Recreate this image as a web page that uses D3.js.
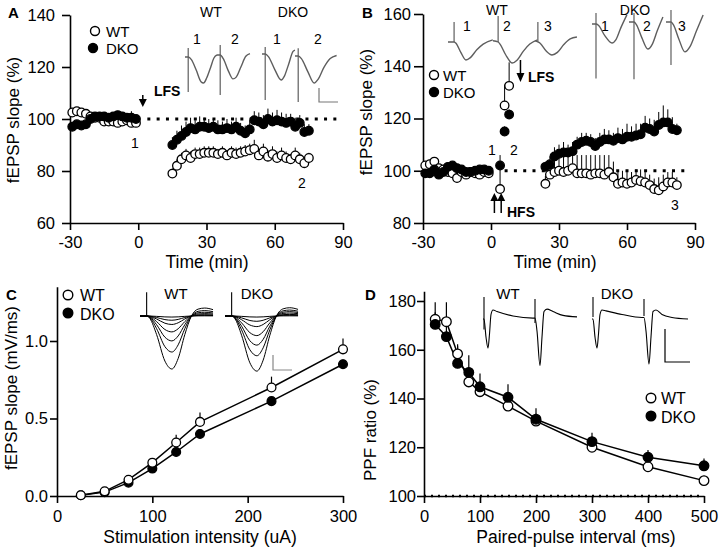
<!DOCTYPE html>
<html><head><meta charset="utf-8">
<script src="https://cdn.jsdelivr.net/npm/d3@7"></script>
<style>
body{margin:0;background:#fff;}
svg{display:block;}
</style></head><body>
<svg id="chart" width="720" height="553"></svg>
<script>
// ================= DATA =================
// Panel A (LFS)
const timeBaseA = [-29,-27,-25,-23,-21,-19,-17,-15,-13,-11,-9,-7,-5,-3,-1];
const wtBaseA   = [102.5,103,102.5,102,101,100.5,100.5,99,99,99,98.5,99,99.5,98.5,98.5];
const wtBaseAErr= [1,1,1.2,1,1,1.2,1,1,1.5,1,1.2,1,1.5,1.2,1.5];
const dkoBaseA  = [97,98,97.5,98,100,101,101,101,100.5,101,101.5,101,100.5,100.5,100];
const dkoBaseAErr=[1.5,1.2,1.5,1,1.5,1.2,1.5,1.2,1.5,1.2,1.5,1.2,1.5,2.5,1.5];
const timePostA = [15,17,19,21,23,25,27,29,31,33,35,37,39,41,43,45,47,49,51,53,55,57,59,61,63,65,67,69,71,73,75];
const wtPostA   = [79,82,84.5,86,85,86.5,86.5,87,87,87,86.5,87,86,87,86.5,87,87.5,88,88.5,86,87.5,85.5,86.5,85,86,85,84.5,86,84.5,83,85];
const wtPostAErr= [2,2.5,2.5,2.5,2.5,2.5,2.5,2.5,2.5,2.5,2,2.5,2,2.5,2.5,2.5,2.5,2.5,3.5,2.5,3,2.5,3,2.5,3,2.5,2,3,2.5,2,2];
const dkoPostA  = [90,92,93.5,95,96.5,96,97,97,96.5,97,96,96,96.5,96,97,95.5,94.5,96,99.5,99,98,100,99,99.5,99,98.5,99,97,98.5,95,95.5];
const dkoPostAErr=[3,3.5,4,4,4,3.5,4,3.5,3.5,3,3.5,3,3.5,3,3.5,3,3,3.5,3.5,3.5,3.5,4,3.5,4,3.5,3.5,3,3.5,3,3,2.5];

// Panel B (HFS then LFS)
const timeBaseB = [-29,-27,-25,-23,-21,-19,-17,-15,-13,-11,-9,-7,-5,-3,-1];
const wtBaseB   = [102,102.5,103.5,101,100.5,99.5,99,97.2,99.5,98.5,99.5,99,98.5,99.5,99];
const dkoBaseB  = [99,99,100.5,98.5,99.5,101.5,102,101,100.5,99.5,99.5,100,100.5,100.5,100];
const baseBErr  = [1.5,1.5,1.5,1.5,1.5,1.5,1.5,1.5,1.5,1.5,1.5,1.5,1.5,1.5,1.5];
const timeEarlyB = [4,6,8];
const wtEarlyB   = [93,125,132.5];
const wtEarlyBErr= [9,8,9];
const dkoEarlyB  = [102,115,121.5];
const dkoEarlyBErr=[4,2,2];
const timePostB = [24,26,28,30,32,34,36,38,40,42,44,46,48,50,52,54,56,58,60,62,64,66,68,70,72,74,76,78,80,82];
const wtPostB   = [95,98.5,99.5,100,99.5,100,101,99,99,99,98.5,99,99,98.5,99.5,97.5,95,95.5,95,95.5,96.5,96,95.5,94.5,93,92.5,94,95.5,95.5,94.5];
const wtPostBErr= [3,5,6,6.5,6,6.5,6,7,7,7,7.5,7,7,7.5,6.5,6,5,4.5,5,4,4,4.5,4,4,4,5,4.5,4,4,3];
const dkoPostB  = [101.5,102.5,105.5,106.5,107,107,107.5,110,111,111.5,111,109.5,111,112,112,111.5,112.5,112,113,113,113.5,114,116.5,116,115,117.5,118.5,118.5,116,115.5];
const dkoPostBErr=[2,3,3.5,3.5,4,3,3.5,3,3.5,3,3,3,3.5,4,3.5,3,4,4,5,4,4.5,4,4.5,4,4.5,5,6.5,5,4.5,2.5];

// Panel C (input-output)
const intensityC = [25,50,75,100,125,150,225,300];
const wtC     = [0.005,0.03,0.105,0.215,0.345,0.478,0.70,0.946];
const wtCErr  = [0.005,0.01,0.02,0.03,0.05,0.06,0.07,0.07];
const dkoC    = [0.005,0.025,0.086,0.177,0.284,0.40,0.612,0.85];
const dkoCErr = [0.005,0.01,0.01,0.02,0.02,0.03,0.03,0.03];

// Panel D (paired-pulse)
const intervalD = [20,40,60,80,100,150,200,300,400,500];
const wtD     = [172.5,171.5,158.3,146.8,142.8,136.9,130.7,120,112,106.3];
const wtDErr  = [7,8,4,3,3,3,3,2,2,2];
const dkoD    = [170.4,165.4,154.4,150.7,144.8,140.5,131.5,122.3,115.9,112.4];
const dkoDErr = [5,6,7,7,5.5,5.3,4.5,3.7,3,3];

// Tick labels
const ticksTimeX = [-30,0,30,60,90];
const ticksAY = [60,80,100,120,140];
const ticksBY = [80,100,120,140,160];
const ticksCX = [0,100,200,300];
const ticksCY = [0,0.5,1.0];
const ticksDX = [0,100,200,300,400,500];
const ticksDY = [100,120,140,160,180];

// Inset sample traces: [time unit, amplitude unit]
const trA_wt1  = [[0,0],[1,0],[2,-0.1],[3.5,-0.5],[5,-0.95],[5.8,-1.0],[6.8,-0.8],[8,-0.4],[9,-0.05],[10,0.08]];
const trA_wt2  = [[0,0],[1,0],[2,-0.15],[3.5,-0.6],[5,-0.92],[6,-0.85],[7.5,-0.45],[9,-0.05],[10.3,0.05]];
const trA_dko1 = [[0,0],[1,0],[2,-0.1],[4,-0.6],[6,-1.0],[7,-0.85],[8.3,-0.4],[9.7,0.1],[10.3,0.15]];
const trA_dko2 = [[0,0],[1,0],[2,-0.1],[4,-0.6],[6,-1.04],[7.2,-0.9],[9,-0.45],[11,-0.1],[13,0.02]];
const artA = [[1,0.35,-1.35],[1,0.38,-1.54],[1,0.27,-1.77],[1,0.3,-1.77]];
const trB_wt1  = [[0,0],[1.9,0],[2.5,-0.05],[4,-0.4],[5.6,-0.69],[7,-0.6],[9,-0.3],[11,-0.08],[14,0.08]];
const trB_wt2  = [[0,0.05],[1.6,0],[2.3,-0.1],[4,-0.5],[6,-0.81],[7.5,-0.7],[9.5,-0.35],[11.5,-0.08],[13.9,0.08]];
const trB_wt3  = [[0,0.05],[0.9,0],[1.6,-0.05],[3.5,-0.35],[5.3,-0.5],[7,-0.4],[9,-0.1],[11,0.12],[13.1,0.19]];
const trB_dko1 = [[0,0],[1.25,0],[2,-0.05],[4,-0.45],[6.25,-0.73],[7.5,-0.6],[9,-0.15],[10.9,0.35]];
const trB_dko2 = [[0,0],[1.56,0],[2.3,-0.1],[4,-0.6],[5.9,-1.04],[7.3,-0.85],[8.8,-0.35],[10.6,0.19]];
const trB_dko3 = [[0,0],[1.56,0],[2.3,-0.1],[4,-0.65],[5.9,-1.15],[7.5,-0.95],[9.5,-0.35],[11.6,0.27]];
const artB = [[1.9,0.77,0],[1.6,1.0,0],[0.9,0.77,0],[1.25,0.42,-2.1],[1.56,0.35,-2.2],[1.56,0.46,-1.65]];
const shapeC = [[0,0],[2,0],[3,-0.05],[5,-0.35],[7.5,-0.85],[9.6,-1],[11.5,-0.8],[13.5,-0.35],[15.5,0],[17.5,0.13],[19.5,0.15],[22,0.12]];
const ampC_wt  = [0.02,0.08,0.16,0.3,0.47,0.68,1.0];
const ampC_dko = [0.02,0.1,0.2,0.37,0.55,0.75,1.04];
const artC = [2,0.45,0];
const trD_wt  = [[0,0],[1,0],[3,-0.6],[5,-0.97],[6.5,-0.5],[8,0.15],[10,0.3],[14,0.25],[30,0.1],[50,0.03],[52,0.03],[54,-0.4],[57,-1.55],[59,-0.6],[61,0.25],[64,0.33],[70,0.25],[80,0.12],[94,0.07]];
const trD_dko = [[0,0],[1,0],[3,-0.6],[5,-0.97],[6.5,-0.5],[8,0.15],[10,0.3],[14,0.27],[30,0.15],[50,0.05],[52,0.05],[54,-0.4],[57,-1.5],[59,-0.6],[61,0.25],[64,0.3],[70,0.15],[80,0.05],[96,0.0]];
const artD_wt  = [[1,0.73,-0.35],[52,0.67,-0.13]];
const artD_dko = [[1,0.73,0.07],[52,0.67,0.1]];

// ================= DRAWING =================
const FONT = "'Liberation Sans', Arial, Helvetica, sans-serif";
const svg = d3.select("#chart").attr("font-family", FONT);

const xA = d3.scaleLinear().domain([-30,90]).range([70,343]);
const yA = d3.scaleLinear().domain([60,140]).range([223,15]);
const xB = d3.scaleLinear().domain([-30,90]).range([423,695]);
const yB = d3.scaleLinear().domain([80,160]).range([223,14]);
const xC = d3.scaleLinear().domain([0,300]).range([57,343]);
const yC = d3.scaleLinear().domain([0,1.35]).range([496,286.75]);
const xD = d3.scaleLinear().domain([0,500]).range([424,704]);
const yD = d3.scaleLinear().domain([100,184]).range([496,291.25]);

const plain = d => String(d);
function axes(x, y, o) {
  const g = svg.append("g");
  const xg = g.append("g").attr("transform", `translate(0,${y.range()[0]})`)
    .call(d3.axisBottom(x).tickValues(o.xt).tickFormat(o.xf || plain).tickSize(7).tickSizeOuter(0).tickPadding(o.xp));
  const yg = g.append("g").attr("transform", `translate(${x.range()[0]},0)`)
    .call(d3.axisLeft(y).tickValues(o.yt).tickFormat(o.yf || plain).tickSize(o.yts || 7).tickSizeOuter(0).tickPadding(o.yp));
  [xg, yg].forEach(a => {
    a.attr("font-size", 16.5).attr("font-family", FONT);
    a.select(".domain").attr("stroke", "#000").attr("stroke-width", 1.6);
    a.selectAll(".tick line").attr("stroke", "#000").attr("stroke-width", 1.6);
    a.selectAll(".tick text").attr("fill", "#000");
  });
}
function text(x, y, s, o = {}) {
  const t = svg.append("text").attr("x", x).attr("y", y).text(s)
    .attr("font-size", o.size || 16).attr("fill", "#000")
    .attr("text-anchor", o.anchor || "start")
    .attr("font-weight", o.bold ? "bold" : "normal");
  if (o.rot) t.attr("transform", `rotate(-90,${x},${y})`);
  return t;
}
function errBars(x, y, xs, ys, es, sw = 1) {
  svg.append("g").selectAll("line").data(xs.map((d, i) => [d, ys[i], es[i]])).join("line")
    .attr("x1", d => x(d[0])).attr("x2", d => x(d[0]))
    .attr("y1", d => y(d[1])).attr("y2", d => y(d[1] + d[2]))
    .attr("stroke", "#000").attr("stroke-width", sw);
}
function dots(x, y, xs, ys, filled, r) {
  svg.append("g").selectAll("circle").data(xs.map((d, i) => [d, ys[i]])).join("circle")
    .attr("cx", d => x(d[0])).attr("cy", d => y(d[1])).attr("r", r)
    .attr("fill", filled ? "#000" : "#fff").attr("stroke", "#000").attr("stroke-width", 1.3);
}
function connect(x, y, xs, ys) {
  svg.append("path").attr("d", d3.line().x(d => x(d[0])).y(d => y(d[1]))(xs.map((d, i) => [d, ys[i]])))
    .attr("fill", "none").attr("stroke", "#000").attr("stroke-width", 1.5);
}
function hdotted(x, y, x0, x1, v, w, dash) {
  svg.append("line").attr("x1", x(x0)).attr("x2", x(x1)).attr("y1", y(v)).attr("y2", y(v))
    .attr("stroke", "#000").attr("stroke-width", w).attr("stroke-dasharray", dash);
}
function legendItem(cx, cy, filled, r, label, tx, ty, fs = 15) {
  svg.append("circle").attr("cx", cx).attr("cy", cy).attr("r", r)
    .attr("fill", filled ? "#000" : "#fff").attr("stroke", "#000").attr("stroke-width", 1.4);
  text(tx, ty, label, { size: fs });
}
function arrow(x, yTail, yTip, w = 3.5, head = 8) {
  const dir = yTip > yTail ? 1 : -1;
  svg.append("line").attr("x1", x).attr("x2", x).attr("y1", yTail).attr("y2", yTip - dir * head)
    .attr("stroke", "#000").attr("stroke-width", 1.5);
  svg.append("path").attr("d", `M${x - w},${yTip - dir * head}L${x + w},${yTip - dir * head}L${x},${yTip}Z`).attr("fill", "#000");
}
function trace(pts, ox, oy, sx, sy, stroke, sw, amp = 1) {
  const xs = d3.scaleLinear().domain([0, 1]).range([ox, ox + sx]);
  const ys = d3.scaleLinear().domain([0, 1]).range([oy, oy - sy]);
  svg.append("path").attr("d", d3.line().x(d => xs(d[0])).y(d => ys(d[1] * amp)).curve(d3.curveMonotoneX)(pts))
    .attr("fill", "none").attr("stroke", stroke).attr("stroke-width", sw);
  return { xs, ys };
}
function art(sc, a, stroke, sw) {
  svg.append("line").attr("x1", sc.xs(a[0])).attr("x2", sc.xs(a[0])).attr("y1", sc.ys(a[1])).attr("y2", sc.ys(a[2]))
    .attr("stroke", stroke).attr("stroke-width", sw);
}
function scaleBar(x, y0, y1, x1, stroke) {
  svg.append("path").attr("d", `M${x},${y0}V${y1}H${x1}`).attr("fill", "none").attr("stroke", stroke).attr("stroke-width", 1.2);
}

// ---------- Panel A ----------
text(8, 18, "A", { size: 15, bold: true });
axes(xA, yA, { xt: ticksTimeX, yt: ticksAY, xp: 6, yp: 7, yts: 8 });
text(19, 120, "fEPSP slope (%)", { size: 17, anchor: "middle", rot: true });
text(207, 268, "Time (min)", { size: 17.5, anchor: "middle" });
hdotted(xA, yA, 4, 88, 100, 3, "3,6.3");
errBars(xA, yA, timeBaseA, wtBaseA, wtBaseAErr);
errBars(xA, yA, timeBaseA, dkoBaseA, dkoBaseAErr);
errBars(xA, yA, timePostA, wtPostA, wtPostAErr);
errBars(xA, yA, timePostA, dkoPostA, dkoPostAErr);
dots(xA, yA, timeBaseA, wtBaseA, false, 4.3);
dots(xA, yA, timeBaseA, dkoBaseA, true, 4.3);
dots(xA, yA, timePostA, dkoPostA, true, 4.3);
dots(xA, yA, timePostA, wtPostA, false, 4.3);
legendItem(95, 31, false, 4.5, "WT", 106, 36.5);
legendItem(93, 48, true, 4.5, "DKO", 106, 53.5);
arrow(xA(2), 95, 107, 4, 8);
text(154, 96, "LFS", { size: 14, bold: true });
text(135, 148, "1", { size: 14, anchor: "middle" });
text(302, 188, "2", { size: 14, anchor: "middle" });
text(211, 17, "WT", { size: 14, anchor: "middle" });
text(293, 17, "DKO", { size: 14, anchor: "middle" });
[[197, "1"], [235, "2"], [277, "1"], [318, "2"]].forEach(d => text(d[0], 44, d[1], { size: 14, anchor: "middle" }));
{
  const col = "#5e5e5e";
  const s1 = trace(trA_wt1, 185, 57, 3.2, 26, col, 1.4); art(s1, artA[0], col, 1.2);
  const s2 = trace(trA_wt2, 217, 55, 3.2, 26, col, 1.4); art(s2, artA[1], col, 1.2);
  const s3 = trace(trA_dko1, 262, 54, 3.2, 26, col, 1.4); art(s3, artA[2], col, 1.2);
  const s4 = trace(trA_dko2, 295, 56, 3.2, 26, col, 1.4); art(s4, artA[3], col, 1.2);
  scaleBar(319, 88, 102, 338, "#777");
}

// ---------- Panel B ----------
text(362, 18, "B", { size: 15, bold: true });
axes(xB, yB, { xt: ticksTimeX, yt: ticksBY, xp: 6, yp: 3, yts: 9 });
text(372, 112, "fEPSP slope (%)", { size: 17, anchor: "middle", rot: true });
text(555, 268, "Time (min)", { size: 17.5, anchor: "middle" });
hdotted(xB, yB, 6, 88, 100, 3, "3,6.3");
errBars(xB, yB, timeBaseB, wtBaseB, baseBErr);
errBars(xB, yB, timeBaseB, dkoBaseB, baseBErr);
errBars(xB, yB, timeEarlyB, wtEarlyB, wtEarlyBErr);
errBars(xB, yB, timeEarlyB, dkoEarlyB, dkoEarlyBErr);
errBars(xB, yB, timePostB, wtPostB, wtPostBErr);
errBars(xB, yB, timePostB, dkoPostB, dkoPostBErr);
dots(xB, yB, timeBaseB, wtBaseB, false, 4.3);
dots(xB, yB, timeBaseB, dkoBaseB, true, 4.3);
dots(xB, yB, timeEarlyB, wtEarlyB, false, 4.3);
dots(xB, yB, timeEarlyB, dkoEarlyB, true, 4.3);
dots(xB, yB, timePostB, wtPostB, false, 4.3);
dots(xB, yB, timePostB, dkoPostB, true, 4.3);
legendItem(434, 75, false, 4.5, "WT", 443, 80.5);
legendItem(434, 92, true, 4.5, "DKO", 443, 97.5);
arrow(xB(13), 60, 82, 4, 9);
text(528, 82, "LFS", { size: 14, bold: true });
arrow(xB(1.5), 213, 193, 4, 8);
arrow(xB(4.5), 213, 193, 4, 8);
text(507, 217, "HFS", { size: 14, bold: true });
text(492, 155, "1", { size: 14, anchor: "middle" });
text(514, 155, "2", { size: 14, anchor: "middle" });
text(675, 210, "3", { size: 14, anchor: "middle" });
text(497, 14.5, "WT", { size: 14, anchor: "middle" });
text(635, 14.5, "DKO", { size: 14, anchor: "middle" });
[[467, "1"], [507, "2"], [548, "3"], [605, "1"], [647, "2"], [682, "3"]].forEach(d => text(d[0], 31, d[1], { size: 14, anchor: "middle" }));
{
  const col = "#5e5e5e";
  const s1 = trace(trB_wt1, 448, 42, 3.2, 26, col, 1.4); art(s1, artB[0], col, 1.2);
  const s2 = trace(trB_wt2, 493, 42, 3.2, 26, col, 1.4); art(s2, artB[1], col, 1.2);
  const s3 = trace(trB_wt3, 535, 42, 3.2, 26, col, 1.4); art(s3, artB[2], col, 1.2);
  const s4 = trace(trB_dko1, 592, 24, 3.2, 26, col, 1.4); art(s4, artB[3], col, 1.2);
  const s5 = trace(trB_dko2, 629, 22, 3.2, 26, col, 1.4); art(s5, artB[4], col, 1.2);
  const s6 = trace(trB_dko3, 666, 22, 3.2, 26, col, 1.4); art(s6, artB[5], col, 1.2);
}

// ---------- Panel C ----------
text(6, 300, "C", { size: 15, bold: true });
axes(xC, yC, { xt: ticksCX, yt: ticksCY, yf: d3.format(".1f"), xp: 7, yp: 2 });
text(17, 388, "fEPSP slope (mV/ms)", { size: 17, anchor: "middle", rot: true });
text(200, 543, "Stimulation intensity (uA)", { size: 17.5, anchor: "middle" });
connect(xC, yC, intensityC, wtC);
connect(xC, yC, intensityC, dkoC);
errBars(xC, yC, intensityC, wtC, wtCErr, 1.2);
errBars(xC, yC, intensityC, dkoC, dkoCErr, 1.2);
dots(xC, yC, intensityC, dkoC, true, 4.4);
dots(xC, yC, intensityC, wtC, false, 4.4);
legendItem(68, 295, false, 4.8, "WT", 80, 301, 16);
legendItem(68, 313, true, 4.8, "DKO", 80, 319.5, 16);
text(176, 299, "WT", { size: 15, anchor: "middle" });
text(257, 299, "DKO", { size: 15, anchor: "middle" });
{
  let sc;
  ampC_wt.forEach(a => { sc = trace(shapeC, 140, 316, 3.32, 53, "#000", 1, a); });
  art(sc, artC, "#000", 1.1);
  ampC_dko.forEach(a => { sc = trace(shapeC, 225, 316, 3.32, 53, "#000", 1, a); });
  art(sc, artC, "#000", 1.1);
  scaleBar(273, 355, 370, 292, "#888");
}

// ---------- Panel D ----------
text(365, 300, "D", { size: 15, bold: true });
axes(xD, yD, { xt: ticksDX, yt: ticksDY, xp: 7, yp: 1 });
text(376, 430, "PPF ratio (%)", { size: 17, anchor: "middle", rot: true });
text(576, 543, "Paired-pulse interval (ms)", { size: 17.5, anchor: "middle" });
hdotted(xD, yD, 0, 500, 100, 2.5, "2,5");
connect(xD, yD, intervalD, wtD);
connect(xD, yD, intervalD, dkoD);
errBars(xD, yD, intervalD, wtD, wtDErr, 1.2);
errBars(xD, yD, intervalD, dkoD, dkoDErr, 1.2);
dots(xD, yD, intervalD, wtD, false, 4.8);
dots(xD, yD, intervalD, dkoD, true, 4.8);
legendItem(651, 398, false, 4.8, "WT", 661, 404, 16);
legendItem(651, 416, true, 4.8, "DKO", 661, 422.5, 16);
text(508, 299, "WT", { size: 15, anchor: "middle" });
text(617, 299, "DKO", { size: 15, anchor: "middle" });
{
  const s1 = trace(trD_wt, 483, 319, 1, 30, "#000", 1.1);
  artD_wt.forEach(a => art(s1, a, "#000", 1.1));
  const s2 = trace(trD_dko, 592, 319, 1, 30, "#000", 1.1);
  artD_dko.forEach(a => art(s2, a, "#000", 1.1));
  scaleBar(665, 329, 362, 690, "#000");
}
</script>
</body></html>
